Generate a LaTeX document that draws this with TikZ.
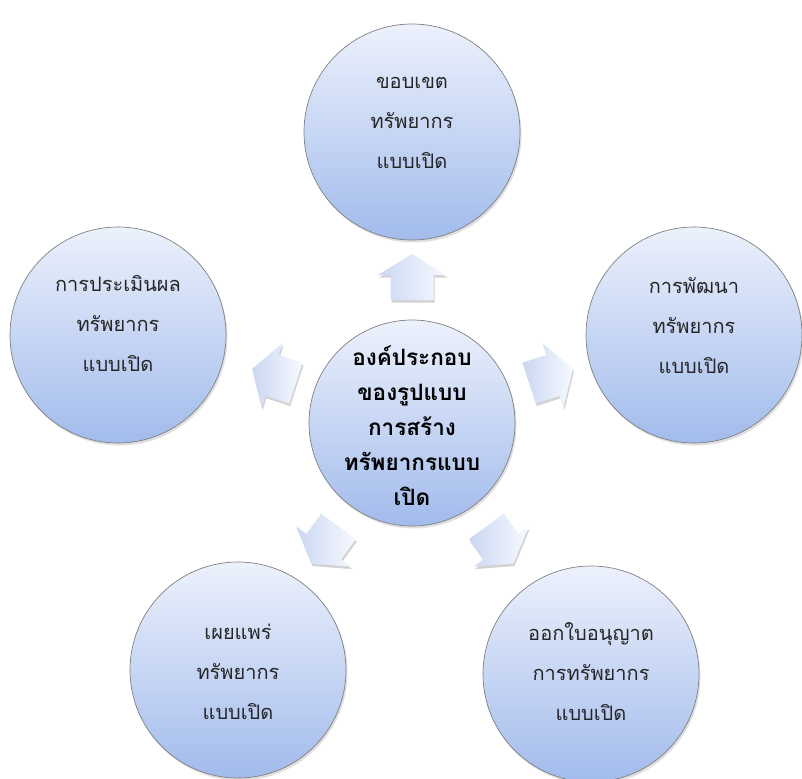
\documentclass[tikz,border=0pt]{standalone}
\usepackage{fontspec}
\newfontfamily\thaifont[Script=Thai]{Loma}
\usetikzlibrary{shadows}

\definecolor{discTop}{HTML}{ECF1FC}
\definecolor{discBottom}{HTML}{A2BBEC}
\definecolor{spokeTip}{HTML}{F7F9FE}
\definecolor{spokeTail}{HTML}{CAD7F3}

% outline of one block arrow, tip pointing along +x
\newcommand\spokeoutline{(-23,-21.5) -- (2,-21.5) -- (2,-34) -- (23,0)
-- (2,34) -- (2,21.5) -- (-23,21.5) -- cycle}

\begin{document}
\begin{tikzpicture}[
x=1pt, y=-1pt,
disc/.style={
circle,
draw=black!50,
line width=0.7pt,
top color=discTop,
bottom color=discBottom,
minimum size=216pt,
inner sep=0pt,
drop shadow={opacity=0.25, shadow xshift=1.5pt, shadow yshift=-2.5pt},
},
hub/.style={
disc,
minimum size=206pt,
},
disctext/.style={
align=center,
text=black!85,
font=\thaifont\fontsize{20}{40}\selectfont,
},
hubtext/.style={
align=center,
text=black,
font=\thaifont\bfseries\fontsize{22.5}{35}\selectfont,
},
spoke/.style={
left color=spokeTail,
right color=spokeTip,
drop shadow={opacity=0.35, shadow xshift=1pt, shadow yshift=-2.5pt},
}
]
\useasboundingbox (0,0) rectangle (802,778);

% hub
\node [hub] (core) at (412,423) {};
\node [hubtext] (coreLabel) at ([yshift=-3pt]core.center)
{องค์ประกอบ\\ของรูปแบบ\\การสร้าง\\ทรัพยากรแบบ\\เปิด};

% outer discs
\node [disc] (bound) at (412,132) {};
\node [disc] (eval) at (118,335) {};
\node [disc] (dev) at (694,335) {};
\node [disc] (spread) at (238,670) {};
\node [disc] (lic) at (591,674) {};

\node [disctext] (boundLabel) at ([yshift=9pt]bound.center) {ขอบเขต\\ทรัพยากร\\แบบเปิด};
\node [disctext] (evalLabel) at ([yshift=11pt]eval.center) {การประเมินผล\\ทรัพยากร\\แบบเปิด};
\node [disctext] (devLabel) at ([yshift=9pt]dev.center) {การพัฒนา\\ทรัพยากร\\แบบเปิด};
\node [disctext] (spreadLabel) at ([yshift=-2pt]spread.center) {เผยแพร่\\ทรัพยากร\\แบบเปิด};
\node [disctext] (licLabel) at ([yshift=2pt]lic.center) {ออกใบอนุญาต\\การทรัพยากร\\แบบเปิด};

% spokes
\coordinate (toBound) at (412,277);
\coordinate (toEval) at (274,376);
\coordinate (toDev) at (551,376);
\coordinate (toSpread) at (325,545);
\coordinate (toLic) at (500,545);

\path [spoke, shift={(toBound)}, rotate=90] \spokeoutline;
\path [spoke, shift={(toEval)}, rotate=162] \spokeoutline;
\path [spoke, shift={(toDev)}, rotate=18] \spokeoutline;
\path [spoke, shift={(toSpread)}, rotate=234] \spokeoutline;
\path [spoke, shift={(toLic)}, rotate=306] \spokeoutline;

\end{tikzpicture}
\end{document}
